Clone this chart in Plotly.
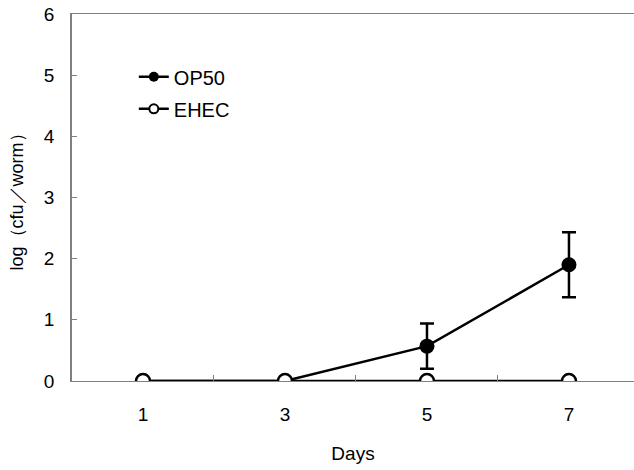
import plotly.graph_objects as go

days = ["1", "3", "5", "7"]
op50 = [0, 0, 0.57, 1.9]
op50_err_plus = [0, 0, 0.37, 0.53]
op50_err_minus = [0, 0, 0.37, 0.53]
ehec = [0, 0, 0, 0]
y_ticks = [0, 1, 2, 3, 4, 5, 6]

FONT = "Liberation Sans Narrow, Liberation Sans, sans-serif"

fig = go.Figure()
fig.add_trace(go.Scatter(
    x=days, y=op50, mode="lines+markers", name="OP50", showlegend=False,
    line=dict(color="black", width=2.5),
    marker=dict(symbol="circle", size=15, color="black"),
    error_y=dict(type="data", array=op50_err_plus, arrayminus=op50_err_minus,
                 color="black", thickness=2.5, width=7, visible=True),
))
fig.add_trace(go.Scatter(
    x=days, y=ehec, mode="lines+markers", name="EHEC", showlegend=False,
    line=dict(color="black", width=2.5),
    marker=dict(symbol="circle", size=14, color="white", line=dict(color="black", width=2.5)),
))
# legend entries
fig.add_trace(go.Scatter(
    x=[None], y=[None], mode="lines+markers", name="OP50", legendgroup="a",
    line=dict(color="black", width=2.5),
    marker=dict(symbol="circle", size=10, color="black"),
))
fig.add_trace(go.Scatter(
    x=[None], y=[None], mode="lines+markers", name="EHEC", legendgroup="b",
    line=dict(color="black", width=2.5),
    marker=dict(symbol="circle", size=9, color="white", line=dict(color="black", width=2)),
))

fig.update_layout(
    width=634, height=470,
    margin=dict(l=72, r=0, t=14, b=89),
    paper_bgcolor="white", plot_bgcolor="white",
    font=dict(family=FONT, color="black", size=19),
    showlegend=True,
    legend=dict(x=0.11, y=0.882, xanchor="left", yanchor="top",
                bgcolor="rgba(0,0,0,0)", font=dict(size=20, family=FONT),
                tracegroupgap=3, itemwidth=30),
    xaxis=dict(
        type="category", categoryorder="array", categoryarray=days,
        range=[-0.5, 3.458], tickson="boundaries",
        ticks="inside", ticklen=6, tickcolor="#808080", tickwidth=1,
        showline=True, linecolor="#808080", linewidth=1, mirror=True,
        showgrid=False, zeroline=False,
        ticklabelstandoff=16, tickfont=dict(size=19),
        title=dict(text="Days", font=dict(size=19), standoff=22),
    ),
    yaxis=dict(
        range=[0, 6], tickvals=y_ticks, ticktext=[str(v) for v in y_ticks],
        ticks="inside", ticklen=5, tickcolor="#808080", tickwidth=1,
        showline=True, linecolor="#808080", linewidth=1.5,
        showgrid=False, zeroline=False,
        ticklabelstandoff=12, tickfont=dict(size=19),
        title=dict(text="log（cfu／worm）", font=dict(size=18), standoff=16),
    ),
)

fig.write_html("out.html")
